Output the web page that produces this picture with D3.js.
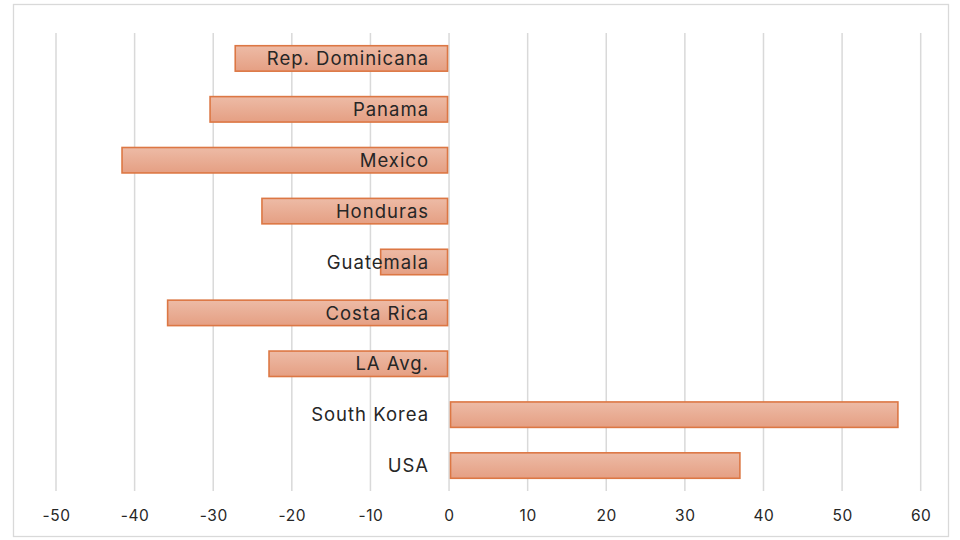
<!DOCTYPE html>
<html>
<head>
<meta charset="utf-8">
<script src="https://cdn.jsdelivr.net/npm/d3@7"></script>
<style>
  body { margin: 0; background: #fff; }
  svg { display: block; font-family: Inter, "Liberation Sans", sans-serif; }
</style>
</head>
<body>
<svg id="chart" width="960" height="540"></svg>
<script>
// countries, top to bottom
const categories = ["Rep. Dominicana", "Panama", "Mexico", "Honduras", "Guatemala",
                    "Costa Rica", "LA Avg.", "South Korea", "USA"];
const values = [-27.2, -30.4, -41.6, -23.8, -8.7, -35.8, -22.9, 57.1, 37.0];
const tickValues = [-50, -40, -30, -20, -10, 0, 10, 20, 30, 40, 50, 60];

const svg = d3.select("#chart");

// gradient for the bars
const defs = svg.append("defs");
const grad = defs.append("linearGradient")
    .attr("id", "barFill").attr("x1", 0).attr("y1", 0).attr("x2", 0).attr("y2", 1);
grad.append("stop").attr("offset", "0%").attr("stop-color", "#edbba6");
grad.append("stop").attr("offset", "100%").attr("stop-color", "#e59f83");

// chart border
svg.append("rect")
    .attr("x", 13.5).attr("y", 4.5).attr("width", 935).attr("height", 532)
    .attr("fill", "#fff").attr("stroke", "#d9d9d9").attr("stroke-width", 1.3);

const x = d3.scaleLinear().domain([-50, 60]).range([56, 920.7]);
const y = d3.scaleBand().domain(categories).range([33, 491])
    .paddingInner(0.5).paddingOuter(0.25);

// vertical gridlines
svg.append("g").selectAll("line")
    .data(tickValues)
    .join("line")
    .attr("x1", d => x(d)).attr("x2", d => x(d))
    .attr("y1", 33).attr("y2", 491)
    .attr("stroke", "#d9d9d9").attr("stroke-width", 1.5);

// bars
svg.append("g").selectAll("rect")
    .data(categories)
    .join("rect")
    .attr("x", (d, i) => Math.min(x(values[i]), x(0)) + (values[i] < 0 ? 0 : 1.5))
    .attr("y", d => y(d))
    .attr("width", (d, i) => Math.abs(x(values[i]) - x(0)) - 1.5)
    .attr("height", y.bandwidth())
    .attr("fill", "url(#barFill)")
    .attr("stroke", "#dc7744").attr("stroke-width", 1.6);

// category labels, right-aligned left of zero
svg.append("g").selectAll("text")
    .data(categories)
    .join("text")
    .attr("x", x(0) - 20)
    .attr("y", d => y(d) + y.bandwidth() / 2)
    .attr("dy", "0.36em")
    .attr("text-anchor", "end")
    .attr("fill", "#262626")
    .style("font-size", "18.5px")
    .style("letter-spacing", "1px")
    .text(d => d);

// x axis tick labels (plain hyphen for negatives)
const xAxis = d3.axisBottom(x).tickValues(tickValues)
    .tickFormat(d => String(d)).tickSize(0).tickPadding(0);
const gx = svg.append("g").attr("transform", "translate(0,510)").call(xAxis);
gx.select(".domain").remove();
gx.selectAll("text")
    .attr("fill", "#262626")
    .style("font-size", "15.5px")
    .style("letter-spacing", "0.6px")
    .style("font-family", "Inter, 'Liberation Sans', sans-serif");
</script>
</body>
</html>
